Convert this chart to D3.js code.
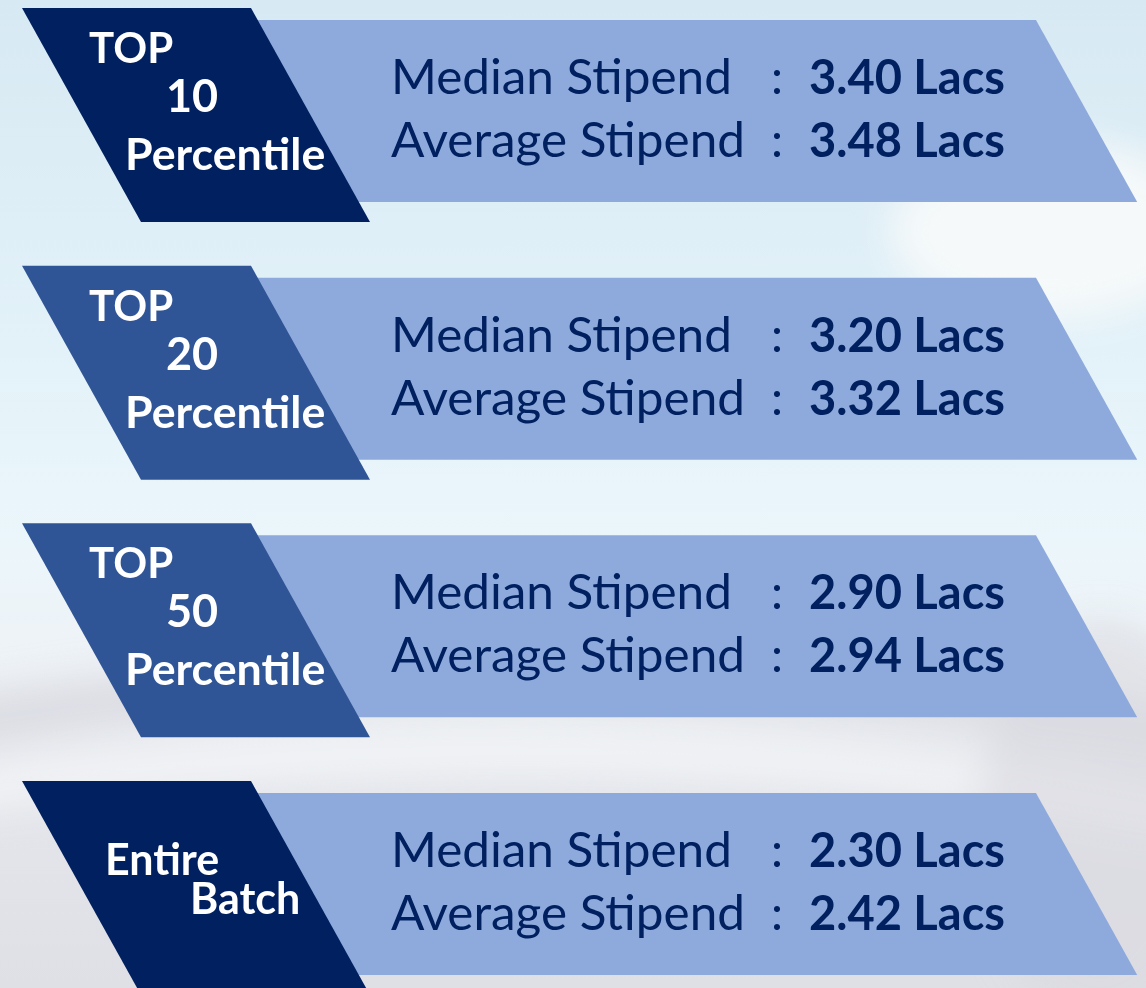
<!DOCTYPE html>
<html>
<head>
<meta charset="utf-8">
<script src="https://cdn.jsdelivr.net/npm/d3@7"></script>
<style>
  html, body { margin: 0; padding: 0; overflow: hidden; background: #e4f1f8; }
  svg { display: block; }
</style>
</head>
<body>
<svg id="chart"></svg>
<script>
// data
const groups = ["top10", "top20", "top50", "batch"];
const groupLines = [
  ["TOP", "10", "Percentile"],
  ["TOP", "20", "Percentile"],
  ["TOP", "50", "Percentile"],
  ["Entire", "Batch"]
];
const medianStipend = [3.40, 3.20, 2.90, 2.30];
const averageStipend = [3.48, 3.32, 2.94, 2.42];
const statNames = ["Median Stipend", "Average Stipend"];

const W = 1146, H = 988;

// tag shape dimensions
const tag = { x0: 22, top: 229, height: 214, skew: 119 };
const band = { left: 250, right: 1036, offset: 12, height: 182 };
const FONT = "Lato, 'Open Sans', sans-serif";

const y = d3.scalePoint().domain(groups).range([8, 781]);
const shade = d3.scaleOrdinal()
  .domain(groups)
  .range(["#002060", "#2f5597", "#2f5597", "#002060"]);

const fmt = v => d3.format(".2f")(v) + " Lacs";
const skewRatio = tag.skew / tag.height;

const svg = d3.select("#chart")
  .attr("width", W)
  .attr("height", H)
  .attr("viewBox", `0 0 ${W} ${H}`);

const defs = svg.append("defs");
const bg = defs.append("linearGradient")
  .attr("id", "bg").attr("x1", 0).attr("y1", 0).attr("x2", 0).attr("y2", 1);
[["0%", "#d7e9f3"], ["35%", "#e3f2f9"], ["55%", "#ebf6fb"], ["68%", "#eef2f6"],
 ["80%", "#e4e6eb"], ["100%", "#dfe0e6"]]
  .forEach(s => bg.append("stop").attr("offset", s[0]).attr("stop-color", s[1]));

defs.append("filter").attr("id", "blur")
  .attr("x", "-20%").attr("y", "-20%").attr("width", "140%").attr("height", "140%")
  .append("feGaussianBlur").attr("stdDeviation", 18);

svg.append("rect").attr("width", W).attr("height", H).attr("fill", "url(#bg)");

// blurry stadium hints in the background
const haze = svg.append("g").attr("filter", "url(#blur)");
haze.append("ellipse").attr("cx", 1050).attr("cy", 230).attr("rx", 160).attr("ry", 90)
  .attr("fill", "#f7f9fa").attr("opacity", 0.9);
haze.append("path")
  .attr("d", "M-50,700 Q500,600 1200,720 L1200,760 Q500,650 -50,750 Z")
  .attr("fill", "#d5d6dd").attr("opacity", 0.7);
haze.append("path")
  .attr("d", "M-50,770 Q600,680 1200,800 L1200,840 Q600,720 -50,815 Z")
  .attr("fill", "#f4f5f7").attr("opacity", 0.8);
haze.append("ellipse").attr("cx", 1100).attr("cy", 820).attr("rx", 120).attr("ry", 200)
  .attr("fill", "#d9d9df").attr("opacity", 0.6);

const line = d3.line();

const rows = svg.selectAll("g.row")
  .data(groups.map((g, i) => ({
    key: g, lines: groupLines[i], median: medianStipend[i], average: averageStipend[i]
  })))
  .join("g")
  .attr("class", "row")
  .attr("transform", d => `translate(0,${y(d.key)})`);

// light band with slanted right end
rows.append("path")
  .attr("fill", "#8eaadc")
  .attr("d", () => {
    const t = band.offset, b = band.offset + band.height;
    return line([
      [band.left, t], [band.right, t],
      [band.right + band.height * skewRatio, b], [band.left, b]
    ]) + "Z";
  });

// dark parallelogram tag
rows.append("path")
  .attr("fill", d => shade(d.key))
  .attr("d", line([
    [tag.x0, 0], [tag.x0 + tag.top, 0],
    [tag.x0 + tag.top + tag.skew, tag.height], [tag.x0 + tag.skew, tag.height]
  ]) + "Z");

const mid = band.offset + band.height / 2;

// tag labels
const labelLayout3 = [{ x: 89, dy: -48, fs: 42 }, { x: 166, dy: 1, fs: 45 }, { x: 125, dy: 59, fs: 43 }];
const labelLayout2 = [{ x: 105, dy: -9, fs: 43 }, { x: 190, dy: 30, fs: 43 }];

// Lato runs a little narrower than the original face
function stretch(sel, k) {
  const n = sel.node().getComputedTextLength();
  sel.attr("textLength", n * k).attr("lengthAdjust", "spacingAndGlyphs");
}

rows.each(function(d) {
  const g = d3.select(this);
  const lay = d.lines.length === 3 ? labelLayout3 : labelLayout2;
  d.lines.forEach((txt, j) => {
    const t = g.append("text")
      .attr("x", lay[j].x)
      .attr("y", mid + lay[j].dy)
      .attr("fill", "#ffffff")
      .attr("font-family", FONT)
      .attr("font-weight", 700)
      .attr("font-size", lay[j].fs)
      .text(txt);
    if (txt === "Percentile") stretch(t, 1.04);
  });

  const values = [d.median, d.average];
  statNames.forEach((name, j) => {
    const by = mid + (j === 0 ? -17 : 46);
    const t = g.append("text")
      .attr("class", "stat")
      .attr("x", 391).attr("y", by)
      .attr("fill", "#002060")
      .attr("font-family", FONT)
      .attr("font-size", 48)
      .text(name);
    stretch(t, 1.03);
    g.append("text")
      .attr("x", 771).attr("y", by)
      .attr("fill", "#002060")
      .attr("font-family", FONT)
      .attr("font-size", 48)
      .text(":");
    g.append("text")
      .attr("class", "val")
      .attr("x", 809).attr("y", by)
      .attr("fill", "#002060")
      .attr("font-family", FONT)
      .attr("font-weight", 700)
      .attr("font-size", 47)
      .text(fmt(values[j]));
  });
});
</script>
</body>
</html>
